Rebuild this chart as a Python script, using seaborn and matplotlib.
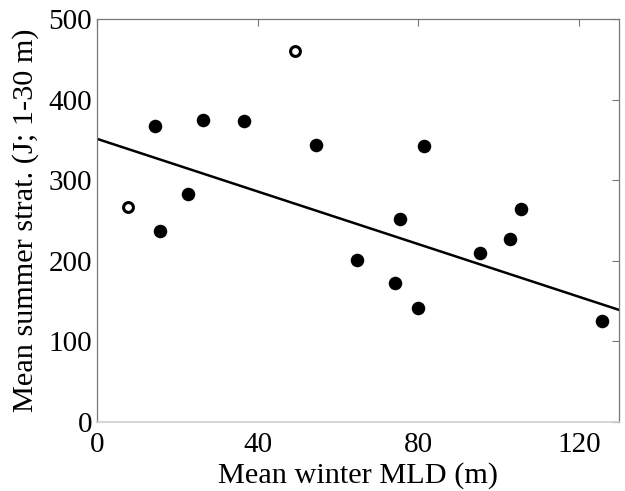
import matplotlib
matplotlib.use("Agg")
import matplotlib.pyplot as plt
import seaborn as sns
import pandas as pd

# Filled points (included in fit)
filled_x = [14.4, 15.8, 22.7, 26.5, 36.5, 54.6, 64.8, 74.2, 75.4, 79.8, 81.3, 95.2, 102.9, 105.6, 125.8]
filled_y = [368, 237, 283, 375, 373, 344, 201, 173, 252, 142, 343, 210, 227, 264, 125]
# Open points (outliers)
open_x = [7.7, 49.3]
open_y = [267, 461]
# Fitted line endpoints
fit_x = [0, 130]
fit_y = [351.5, 139]

x_ticks = [0, 40, 80, 120]
y_ticks = [0, 100, 200, 300, 400, 500]

sns.set_style("white")
plt.rcParams['font.family'] = ['Liberation Serif', 'DejaVu Serif']
plt.rcParams['text.color'] = 'black'
plt.rcParams['axes.labelcolor'] = 'black'
plt.rcParams['xtick.labelcolor'] = 'black'
plt.rcParams['ytick.labelcolor'] = 'black'

fig = plt.figure(figsize=(6.25, 4.91), dpi=100)
ax = fig.add_axes([0.155, 0.1405, 0.836, 0.8205])

df_f = pd.DataFrame({"x": filled_x, "y": filled_y})
df_o = pd.DataFrame({"x": open_x, "y": open_y})
df_l = pd.DataFrame({"x": fit_x, "y": fit_y})

sns.lineplot(data=df_l, x="x", y="y", ax=ax, color="black", linewidth=1.8, zorder=2)
sns.scatterplot(data=df_f, x="x", y="y", ax=ax, s=95, color="black", edgecolor="black",
                linewidth=0, zorder=3)
sns.scatterplot(data=df_o, x="x", y="y", ax=ax, s=50, facecolor="white", edgecolor="black",
                linewidth=2.2, zorder=3)

ax.set_xlim(0, 130)
ax.set_ylim(0, 500)
ax.set_xticks(x_ticks)
ax.set_yticks(y_ticks)
ax.tick_params(direction="in", length=5, width=0.8, color="#777777", labelsize=21,
               labelcolor="black", top=True, right=True)
ax.tick_params(axis="x", pad=7)
ax.tick_params(axis="y", pad=3.5)
for side in ["left", "right", "top"]:
    ax.spines[side].set_color("#777777")
    ax.spines[side].set_linewidth(0.9)
ax.spines["bottom"].set_color("#d0d0d0")
ax.spines["bottom"].set_linewidth(1.2)

ax.set_xlabel("Mean winter MLD (m)", fontsize=21.8, labelpad=3, color="black")
ax.set_ylabel("Mean summer strat. (J; 1-30 m)", fontsize=21.8, labelpad=7, color="black")

fig.savefig("out.png", dpi=100)
